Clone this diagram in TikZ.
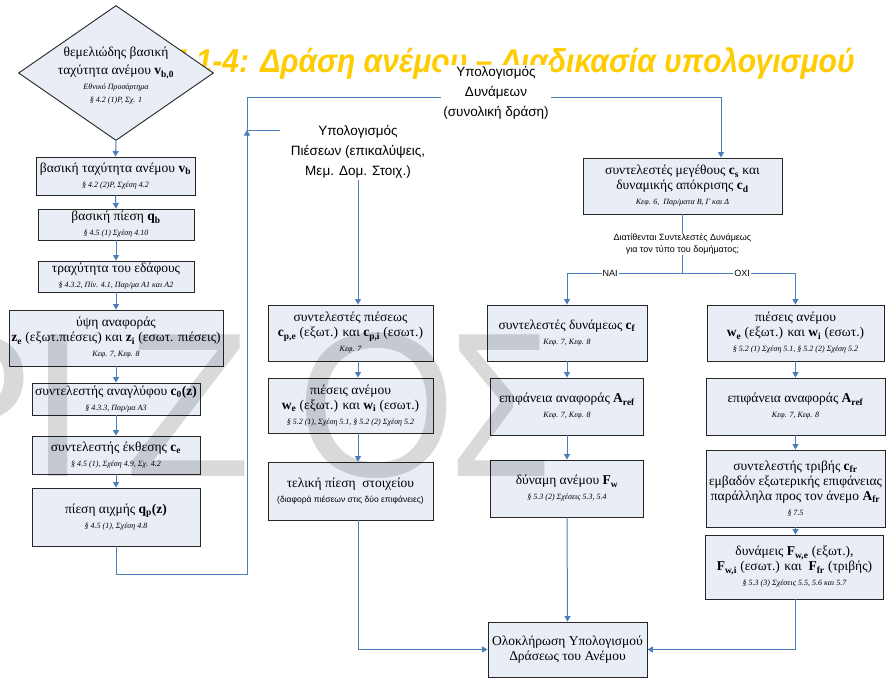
\documentclass[tikz,border=0pt]{standalone}
\usepackage{fontspec}
\setmainfont{Liberation Serif}
\newfontfamily\arialf{Liberation Sans}
\usetikzlibrary{shapes.geometric,arrows.meta,calc}
\definecolor{boxfill}{HTML}{E8EDF6}
\definecolor{linec}{HTML}{4A7EBB}
\definecolor{titlec}{HTML}{FFCC00}
\newcommand\bs[2]{\textbf{#1}\textsubscript{\textbf{#2}}}
\newcommand\refx[1]{{\fontsize{8}{9.5}\selectfont\itshape #1}}
\begin{document}
\begin{tikzpicture}[x=1pt,y=-1pt,
 box/.style={draw=black!85, line width=0.9pt, fill=boxfill, align=center, inner sep=1pt, font=\fontsize{13.5}{15}\selectfont},
 conn/.style={draw=linec, line width=1pt},
 arr/.style={conn, -{Triangle[length=5.5pt,width=6pt]}},
 lab/.style={font=\arialf\fontsize{13.5}{20}\selectfont, align=center, inner sep=1pt},
 small/.style={font=\arialf\fontsize{9}{12}\selectfont, align=center, inner sep=1pt, fill=white},
 wm/.style={font=\arialf\fontsize{206}{206}\selectfont, text=black, text opacity=0.15, anchor=base, inner sep=0pt}]
\useasboundingbox (0,0) rectangle (892,678);
\fill[white] (0,0) rectangle (892,678);
% title
\node[anchor=base east, font=\arialf\bfseries\itshape\fontsize{30}{36}\selectfont, text=titlec, inner sep=0pt, yscale=1.1] (title) at (855,72) {4.1-4: Δράση ανέμου – Διαδικασία υπολογισμού};
% diamond
\node[diamond, draw=black!85, line width=0.9pt, fill=boxfill, minimum width=195pt, minimum height=135pt, inner sep=0pt] (dia) at (116,73) {};
\node[align=center, font=\fontsize{13.5}{18}\selectfont, inner sep=0pt] (diat) at (116,76) {θεμελιώδης βασική\\ταχύτητα ανέμου \bs{v}{b,0}\\[-3pt]\refx{Εθνικό Προσάρτημα}\\[-5pt]\refx{§ 4.2 (1)P, Σχ. 1}};
% left column
\node[box, minimum width=159pt, minimum height=38pt] (b1) at (115.5,176) {βασική ταχύτητα ανέμου \bs{v}{b}\\\refx{§ 4.2 (2)P, Σχέση 4.2}};
\node[box, minimum width=156pt, minimum height=31pt] (b2) at (116,224.5) {βασική πίεση \bs{q}{b}\\\refx{§ 4.5 (1) Σχέση 4.10}};
\node[box, minimum width=156pt, minimum height=31pt] (b3) at (116,276.5) {τραχύτητα του εδάφους\\\refx{§ 4.3.2, Πίν. 4.1, Παρ/μα A1 και A2}};
\node[box, minimum width=214pt, minimum height=56pt] (b4) at (116,338) {ύψη αναφοράς\\\bs{z}{e} (εξωτ.πιέσεις) και \bs{z}{i} (εσωτ. πιέσεις)\\\refx{Κεφ. 7, Κεφ. 8}};
\node[box, minimum width=168pt, minimum height=32pt] (b5) at (116,399) {συντελεστής αναγλύφου \textbf{c}\textsubscript{\textbf{0}}\textbf{(z)}\\\refx{§ 4.3.3, Παρ/μα A3}};
\node[box, minimum width=168pt, minimum height=38pt] (b6) at (116,455) {συντελεστής έκθεσης \bs{c}{e}\\\refx{§ 4.5 (1), Σχέση 4.9, Σχ. 4.2}};
\node[box, minimum width=168pt, minimum height=58pt] (b7) at (116,517) {πίεση αιχμής \textbf{q}\textsubscript{\textbf{p}}\textbf{(z)}\\\refx{§ 4.5 (1), Σχέση 4.8}};
% middle column
\node[lab, minimum width=156pt] (lp) at (358,152) {Υπολογισμός\\Πιέσεων (επικαλύψεις,\\Μεμ. Δομ. Στοιχ.)};
\node[box, minimum width=165pt, minimum height=56pt] (m1) at (350.5,333) {συντελεστές πιέσεως\\\bs{c}{p,e} (εξωτ.) και \bs{c}{p,i} (εσωτ.)\\\refx{Κεφ. 7}};
\node[box, minimum width=165pt, minimum height=55pt] (m2) at (350.5,405.5) {πιέσεις ανέμου\\\bs{w}{e} (εξωτ.) και \bs{w}{i} (εσωτ.)\\\refx{§ 5.2 (1), Σχέση 5.1, § 5.2 (2) Σχέση 5.2}};
\node[box, minimum width=165pt, minimum height=58pt] (m3) at (350.5,491) {τελική πίεση\ \ στοιχείου\\{\arialf\fontsize{8.5}{10}\selectfont (διαφορά πιέσεων στις δύο επιφάνειες)}};
% right part
\node[box, minimum width=199pt, minimum height=56pt] (r0) at (682.5,186) {συντελεστές μεγέθους \bs{c}{s} και\\δυναμικής απόκρισης \bs{c}{d}\\\refx{Κεφ. 6,\ \ Παρ/ματα Β, Γ και Δ}};
\node[box, minimum width=160pt, minimum height=56pt] (c1) at (567,333) {συντελεστές δυνάμεως \bs{c}{f}\\\refx{Κεφ. 7, Κεφ. 8}};
\node[box, minimum width=153pt, minimum height=57pt] (c2) at (567,406.5) {επιφάνεια αναφοράς \bs{A}{ref}\\\refx{Κεφ. 7, Κεφ. 8}};
\node[box, minimum width=153pt, minimum height=57pt] (c3) at (567,488.5) {δύναμη ανέμου \bs{F}{w}\\\refx{§ 5.3 (2) Σχέσεις 5.3, 5.4}};
\node[box, minimum width=177pt, minimum height=56pt] (d1) at (795.5,333) {πιέσεις ανέμου\\\bs{w}{e} (εξωτ.) και \bs{w}{i} (εσωτ.)\\\refx{§ 5.2 (1) Σχέση 5.1, § 5.2 (2) Σχέση 5.2}};
\node[box, minimum width=179pt, minimum height=57pt] (d2) at (795.5,406.5) {επιφάνεια αναφοράς \bs{A}{ref}\\\refx{Κεφ. 7, Κεφ. 8}};
\node[box, minimum width=179pt, minimum height=77pt] (d3) at (795.5,488.5) {συντελεστής τριβής \bs{c}{fr}\\εμβαδόν εξωτερικής επιφάνειας\\παράλληλα προς τον άνεμο \bs{A}{fr}\\\refx{§ 7.5}};
\node[box, minimum width=178pt, minimum height=64pt] (d4) at (794.5,567) {δυνάμεις \bs{F}{w,e} (εξωτ.),\\\bs{F}{w,i} (εσωτ.) και\ \ \bs{F}{fr} (τριβής)\\\refx{§ 5.3 (3) Σχέσεις 5.5, 5.6 και 5.7}};
\node[box, minimum width=159pt, minimum height=55pt] (fin) at (567.5,649.5) {Ολοκλήρωση Υπολογισμού\\Δράσεως του Ανέμου};
% left column connectors
\draw[arr] (dia.south) -- (b1.north);
\draw[arr] (b1.south) -- (b2.north);
\draw[arr] (b2.south) -- (b3.north);
\draw[arr] (b3.south) -- (b4.north);
\draw[arr] (b4.south) -- (b5.north);
\draw[arr] (b5.south) -- (b6.north);
\draw[arr] (b6.south) -- (b7.north);
\coordinate (cb) at (247,574);
\coordinate (j) at (247,130);
\coordinate (t1) at (247,97);
\coordinate (t2) at (721,97);
\draw[arr] (b7.south) |- (cb) -- (j);
\draw[conn] (j) -- (lp.west |- j);
\draw[conn] (j) -- (t1) -- (t2);
\draw[arr] (t2) -- (t2 |- r0.north);
\node[lab, fill=white, inner sep=2pt] (lt) at (496,93) {Υπολογισμός\\Δυνάμεων\\(συνολική δράση)};
% middle connectors
\draw[arr] (lp.south) -- (lp.south |- m1.north);
\draw[arr] (m1.south -| lp.south) -- (m2.north -| lp.south);
\draw[arr] (m2.south -| lp.south) -- (m3.north -| lp.south);
\draw[arr] (m3.south -| lp.south) |- (fin.west);
% decision
\coordinate (sL) at (567,273);
\coordinate (sR) at (795.5,273);
\draw[conn] (r0.south) -- (r0.south |- sL);
\draw[conn] (sL) -- (sR);
\draw[arr] (sL) -- (c1.north);
\draw[arr] (sR) -- (d1.north);
\node[small] (q) at (682.5,244) {Διατίθενται Συντελεστές Δυνάμεως\\για τον τύπο του δομήματος;};
\node[small] (yes) at (610,273) {ΝΑΙ};
\node[small] (no) at (742,273) {ΟΧΙ};
\draw[arr] (c1.south) -- (c2.north);
\draw[arr] (c2.south) -- (c3.north);
\draw[arr] (c3.south) -- (fin.north);
\draw[arr] (d1.south) -- (d2.north);
\draw[arr] (d2.south) -- (d3.north);
\draw[arr] (d3.south) -- (d3.south |- d4.north);
\draw[arr] (d3.south |- d4.south) |- (fin.east);
% watermark
\node[wm] (w1) at (-34,476) {Ρ};
\node[wm] (w2) at (58,476) {Ι};
\node[wm] (w3) at (188,476) {Ζ};
\node[wm] (w4) at (377,476) {Ο};
\node[wm, xscale=0.8] (w5) at (500,476) {Σ};
\end{tikzpicture}
\end{document}
